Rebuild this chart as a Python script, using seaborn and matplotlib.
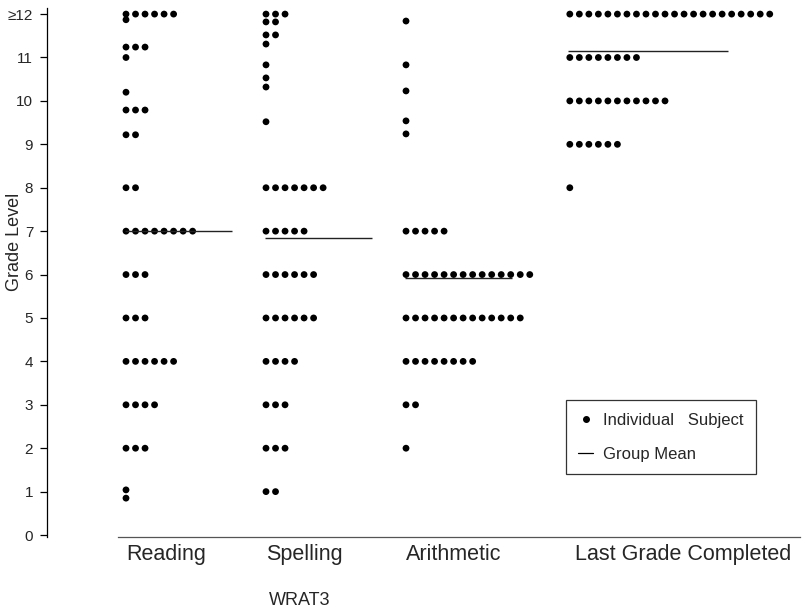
import numpy as np
import pandas as pd
import matplotlib
matplotlib.use("Agg")
import matplotlib.pyplot as plt
import seaborn as sns
from matplotlib.lines import Line2D

# Test categories (WRAT3 subtests plus schooling)
categories = ["Reading", "Spelling", "Arithmetic", "Last Grade Completed"]

# Grade-level scores and how many subjects sit at each score
reading_levels = [12, 11.87, 11.24, 11.0, 10.2, 9.79, 9.22, 8, 7, 6, 5, 4, 3, 2, 1.04, 0.85]
reading_counts = [6, 1, 3, 1, 1, 3, 2, 2, 8, 3, 3, 6, 4, 3, 1, 1]

spelling_levels = [12, 11.82, 11.52, 11.31, 10.83, 10.53, 10.32, 9.52, 8, 7, 6, 5, 4, 3, 2, 1]
spelling_counts = [3, 2, 2, 1, 1, 1, 1, 1, 7, 5, 6, 6, 4, 3, 3, 2]

arithmetic_levels = [11.84, 10.83, 10.23, 9.54, 9.24, 7, 6, 5, 4, 3, 2]
arithmetic_counts = [1, 1, 1, 1, 1, 5, 14, 13, 8, 2, 1]

last_grade_levels = [12, 11, 10, 9, 8]
last_grade_counts = [22, 8, 11, 6, 1]

# Group means per category
group_means = [7.0, 6.84, 5.92, 11.15]

y_ticks = list(range(13))
y_tick_labels = [str(v) for v in range(12)] + ["\u226512"]

sns.set_theme(style="white")
plt.rcParams["font.family"] = ["Liberation Sans", "DejaVu Sans"]

# Left edge of each dot column and horizontal spacing between stacked dots
col_start = [0.0, 1.0, 2.0, 3.17]
step = 0.068
mean_len = [0.76, 0.76, 0.76, 1.13]

levels_all = [reading_levels, spelling_levels, arithmetic_levels, last_grade_levels]
counts_all = [reading_counts, spelling_counts, arithmetic_counts, last_grade_counts]

rows = []
for cat, x0, levels, counts in zip(categories, col_start, levels_all, counts_all):
    for lvl, n in zip(levels, counts):
        for k in range(n):
            rows.append({"test": cat, "grade": lvl, "x": x0 + k * step})
df = pd.DataFrame(rows)

fig = plt.figure(figsize=(8.04, 6.16), dpi=100)
ax = fig.add_axes([0.0585, 0.1282, 0.9365, 0.8588])

sns.scatterplot(data=df, x="x", y="grade", color="black", s=24, marker="o",
                edgecolor="none", linewidth=0, ax=ax, legend=False)

for x0, m, ln in zip(col_start, group_means, mean_len):
    ax.hlines(m, x0 - 0.01, x0 + ln, color="#222222", linewidth=1.0)

ax.set_xlim(-0.564, 4.814)
ax.set_ylim(-0.046, 12.14)

ax.set_yticks(y_ticks)
ax.set_yticklabels(y_tick_labels, fontsize=11)
ax.set_xticks([c + 0.0 for c in col_start[:3]] + [col_start[3] + 0.04])
ax.set_xticklabels(categories, fontsize=15.5, ha="left")

for s in ["top", "right"]:
    ax.spines[s].set_visible(False)
ax.spines["left"].set_color("black")
ax.spines["left"].set_linewidth(0.9)
ax.spines["bottom"].set_color("#555555")
ax.spines["bottom"].set_linewidth(0.9)
ax.spines["bottom"].set_bounds(-0.057, 4.814)
ax.tick_params(axis="y", direction="out", length=5, width=0.9, color="black", pad=5, left=True)
ax.tick_params(axis="x", length=0, pad=5)

ax.set_xlabel("WRAT3", fontsize=13)
ax.xaxis.set_label_coords((300 - 47) / 753, -0.104)
ax.set_ylabel("Grade Level", fontsize=13)
ax.yaxis.set_label_coords((23 - 47) / 753, 0.558)

handles = [
    Line2D([], [], marker="o", color="black", linestyle="none", markersize=4),
    Line2D([], [], color="black", linewidth=0.9),
]
leg = ax.legend(handles, ["Individual   Subject", "Group Mean"],
                loc="upper left", bbox_to_anchor=(0.689, 0.259),
                frameon=True, fancybox=False, edgecolor="black", fontsize=12,
                labelspacing=1.15, borderpad=0.75, borderaxespad=0,
                handlelength=0.9, handletextpad=0.6)
leg.get_frame().set_linewidth(0.9)

fig.savefig("out.png", dpi=100)
